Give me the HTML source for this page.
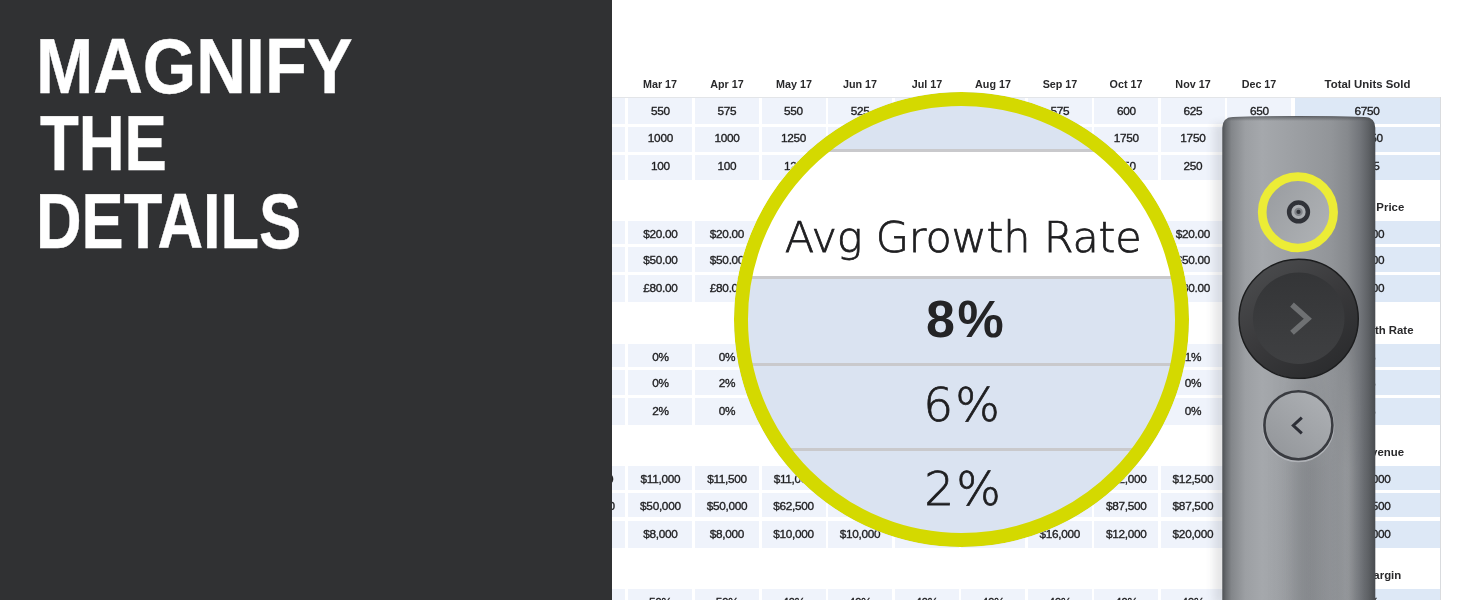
<!DOCTYPE html>
<html lang="en"><head><meta charset="utf-8"><title>Magnify the details</title>
<style>
html,body{margin:0;padding:0;}
body{width:1464px;height:600px;overflow:hidden;position:relative;background:#fff;font-family:"Liberation Sans",sans-serif;color:#2a2a2c;}
.abs{position:absolute;}
.cell{position:absolute;background:#eff3fb;font-size:11.8px;letter-spacing:-0.3px;text-align:center;white-space:nowrap;overflow:hidden;color:#1f1f21;-webkit-text-stroke:0.35px #1f1f21;}
.frag{text-align:right;}
.tot{background:#dde8f6;}
.hdr{position:absolute;font-weight:bold;font-size:11.7px;transform:scaleX(.92);line-height:14px;height:14px;text-align:center;white-space:nowrap;color:#29292b;}
#left{position:absolute;left:0;top:0;width:611.5px;height:600px;background:#303133;z-index:5;}
#left h1{position:absolute;margin:0;left:0;top:0;color:#fff;font-weight:bold;font-size:77.6px;line-height:78px;-webkit-text-stroke:0.45px #fff;}
#left h1 span{display:block;position:absolute;left:40px;white-space:nowrap;transform-origin:0 0;}
.mt{font-family:"DejaVu Sans Light","DejaVu Sans","Liberation Sans",sans-serif;font-weight:200;-webkit-text-stroke:0.75px #1e1e20;color:#1e1e20;white-space:nowrap;}
</style></head><body>

<div class="abs" style="left:612px;top:97px;width:829px;height:1px;background:#e3e5e8"></div>
<div class="abs" style="left:1440px;top:97px;width:1px;height:503px;background:#d9dbde"></div>
<div class="hdr" style="left:628.4px;top:77.1px;width:64.0px">Mar 17</div>
<div class="hdr" style="left:695.0px;top:77.1px;width:64.0px">Apr 17</div>
<div class="hdr" style="left:761.5px;top:77.1px;width:64.0px">May 17</div>
<div class="hdr" style="left:828.1px;top:77.1px;width:64.0px">Jun 17</div>
<div class="hdr" style="left:894.6px;top:77.1px;width:64.0px">Jul 17</div>
<div class="hdr" style="left:961.2px;top:77.1px;width:64.0px">Aug 17</div>
<div class="hdr" style="left:1027.8px;top:77.1px;width:64.0px">Sep 17</div>
<div class="hdr" style="left:1094.3px;top:77.1px;width:64.0px">Oct 17</div>
<div class="hdr" style="left:1160.9px;top:77.1px;width:64.0px">Nov 17</div>
<div class="hdr" style="left:1227.4px;top:77.1px;width:64.0px">Dec 17</div>
<div class="hdr" style="left:1294.6px;top:77.1px;width:145px;transform:scaleX(.975)">Total Units Sold</div>
<div class="cell frag" style="left:560px;top:97.5px;height:26.6px;line-height:27.7px;width:49.0px;padding-right:16px">525</div>
<div class="cell" style="left:628.4px;top:97.5px;height:26.6px;line-height:27.7px;width:64.0px">550</div>
<div class="cell" style="left:695.0px;top:97.5px;height:26.6px;line-height:27.7px;width:64.0px">575</div>
<div class="cell" style="left:761.5px;top:97.5px;height:26.6px;line-height:27.7px;width:64.0px">550</div>
<div class="cell" style="left:828.1px;top:97.5px;height:26.6px;line-height:27.7px;width:64.0px">525</div>
<div class="cell" style="left:894.6px;top:97.5px;height:26.6px;line-height:27.7px;width:64.0px">550</div>
<div class="cell" style="left:961.2px;top:97.5px;height:26.6px;line-height:27.7px;width:64.0px">575</div>
<div class="cell" style="left:1027.8px;top:97.5px;height:26.6px;line-height:27.7px;width:64.0px">575</div>
<div class="cell" style="left:1094.3px;top:97.5px;height:26.6px;line-height:27.7px;width:64.0px">600</div>
<div class="cell" style="left:1160.9px;top:97.5px;height:26.6px;line-height:27.7px;width:64.0px">625</div>
<div class="cell" style="left:1227.4px;top:97.5px;height:26.6px;line-height:27.7px;width:64.0px">650</div>
<div class="cell tot" style="left:1294.6px;top:97.5px;height:26.6px;line-height:27.7px;width:145px">6750</div>
<div class="cell frag" style="left:560px;top:127.0px;height:24.7px;line-height:23.5px;width:49.0px;padding-right:16px">1000</div>
<div class="cell" style="left:628.4px;top:127.0px;height:24.7px;line-height:23.5px;width:64.0px">1000</div>
<div class="cell" style="left:695.0px;top:127.0px;height:24.7px;line-height:23.5px;width:64.0px">1000</div>
<div class="cell" style="left:761.5px;top:127.0px;height:24.7px;line-height:23.5px;width:64.0px">1250</div>
<div class="cell" style="left:828.1px;top:127.0px;height:24.7px;line-height:23.5px;width:64.0px">1250</div>
<div class="cell" style="left:894.6px;top:127.0px;height:24.7px;line-height:23.5px;width:64.0px">1500</div>
<div class="cell" style="left:961.2px;top:127.0px;height:24.7px;line-height:23.5px;width:64.0px">1500</div>
<div class="cell" style="left:1027.8px;top:127.0px;height:24.7px;line-height:23.5px;width:64.0px">1750</div>
<div class="cell" style="left:1094.3px;top:127.0px;height:24.7px;line-height:23.5px;width:64.0px">1750</div>
<div class="cell" style="left:1160.9px;top:127.0px;height:24.7px;line-height:23.5px;width:64.0px">1750</div>
<div class="cell" style="left:1227.4px;top:127.0px;height:24.7px;line-height:23.5px;width:64.0px">2000</div>
<div class="cell tot" style="left:1294.6px;top:127.0px;height:24.7px;line-height:23.5px;width:145px">15750</div>
<div class="cell frag" style="left:560px;top:155.0px;height:25.0px;line-height:23.1px;width:49.0px;padding-right:16px">100</div>
<div class="cell" style="left:628.4px;top:155.0px;height:25.0px;line-height:23.1px;width:64.0px">100</div>
<div class="cell" style="left:695.0px;top:155.0px;height:25.0px;line-height:23.1px;width:64.0px">100</div>
<div class="cell" style="left:761.5px;top:155.0px;height:25.0px;line-height:23.1px;width:64.0px">125</div>
<div class="cell" style="left:828.1px;top:155.0px;height:25.0px;line-height:23.1px;width:64.0px">125</div>
<div class="cell" style="left:894.6px;top:155.0px;height:25.0px;line-height:23.1px;width:64.0px">150</div>
<div class="cell" style="left:961.2px;top:155.0px;height:25.0px;line-height:23.1px;width:64.0px">150</div>
<div class="cell" style="left:1027.8px;top:155.0px;height:25.0px;line-height:23.1px;width:64.0px">150</div>
<div class="cell" style="left:1094.3px;top:155.0px;height:25.0px;line-height:23.1px;width:64.0px">150</div>
<div class="cell" style="left:1160.9px;top:155.0px;height:25.0px;line-height:23.1px;width:64.0px">250</div>
<div class="cell" style="left:1227.4px;top:155.0px;height:25.0px;line-height:23.1px;width:64.0px">250</div>
<div class="cell tot" style="left:1294.6px;top:155.0px;height:25.0px;line-height:23.1px;width:145px">2275</div>
<div class="hdr" style="left:1293.1px;top:199.8px;width:145px;transform:scaleX(.975)">Avg Unit Price</div>
<div class="cell frag" style="left:560px;top:220.8px;height:23.4px;line-height:27.5px;width:49.0px;padding-right:16px"></div>
<div class="cell" style="left:628.4px;top:220.8px;height:23.4px;line-height:27.5px;width:64.0px">$20.00</div>
<div class="cell" style="left:695.0px;top:220.8px;height:23.4px;line-height:27.5px;width:64.0px">$20.00</div>
<div class="cell" style="left:761.5px;top:220.8px;height:23.4px;line-height:27.5px;width:64.0px">$20.00</div>
<div class="cell" style="left:828.1px;top:220.8px;height:23.4px;line-height:27.5px;width:64.0px">$20.00</div>
<div class="cell" style="left:894.6px;top:220.8px;height:23.4px;line-height:27.5px;width:64.0px">$20.00</div>
<div class="cell" style="left:961.2px;top:220.8px;height:23.4px;line-height:27.5px;width:64.0px">$20.00</div>
<div class="cell" style="left:1027.8px;top:220.8px;height:23.4px;line-height:27.5px;width:64.0px">$20.00</div>
<div class="cell" style="left:1094.3px;top:220.8px;height:23.4px;line-height:27.5px;width:64.0px">$20.00</div>
<div class="cell" style="left:1160.9px;top:220.8px;height:23.4px;line-height:27.5px;width:64.0px">$20.00</div>
<div class="cell" style="left:1227.4px;top:220.8px;height:23.4px;line-height:27.5px;width:64.0px">$20.00</div>
<div class="cell tot" style="left:1294.6px;top:220.8px;height:23.4px;line-height:27.5px;width:145px">$20.00</div>
<div class="cell frag" style="left:560px;top:247.4px;height:24.6px;line-height:27.9px;width:49.0px;padding-right:16px"></div>
<div class="cell" style="left:628.4px;top:247.4px;height:24.6px;line-height:27.9px;width:64.0px">$50.00</div>
<div class="cell" style="left:695.0px;top:247.4px;height:24.6px;line-height:27.9px;width:64.0px">$50.00</div>
<div class="cell" style="left:761.5px;top:247.4px;height:24.6px;line-height:27.9px;width:64.0px">$50.00</div>
<div class="cell" style="left:828.1px;top:247.4px;height:24.6px;line-height:27.9px;width:64.0px">$50.00</div>
<div class="cell" style="left:894.6px;top:247.4px;height:24.6px;line-height:27.9px;width:64.0px">$50.00</div>
<div class="cell" style="left:961.2px;top:247.4px;height:24.6px;line-height:27.9px;width:64.0px">$50.00</div>
<div class="cell" style="left:1027.8px;top:247.4px;height:24.6px;line-height:27.9px;width:64.0px">$50.00</div>
<div class="cell" style="left:1094.3px;top:247.4px;height:24.6px;line-height:27.9px;width:64.0px">$50.00</div>
<div class="cell" style="left:1160.9px;top:247.4px;height:24.6px;line-height:27.9px;width:64.0px">$50.00</div>
<div class="cell" style="left:1227.4px;top:247.4px;height:24.6px;line-height:27.9px;width:64.0px">$50.00</div>
<div class="cell tot" style="left:1294.6px;top:247.4px;height:24.6px;line-height:27.9px;width:145px">$50.00</div>
<div class="cell frag" style="left:560px;top:275.2px;height:27.3px;line-height:27.1px;width:49.0px;padding-right:16px"></div>
<div class="cell" style="left:628.4px;top:275.2px;height:27.3px;line-height:27.1px;width:64.0px">£80.00</div>
<div class="cell" style="left:695.0px;top:275.2px;height:27.3px;line-height:27.1px;width:64.0px">£80.00</div>
<div class="cell" style="left:761.5px;top:275.2px;height:27.3px;line-height:27.1px;width:64.0px">£80.00</div>
<div class="cell" style="left:828.1px;top:275.2px;height:27.3px;line-height:27.1px;width:64.0px">£80.00</div>
<div class="cell" style="left:894.6px;top:275.2px;height:27.3px;line-height:27.1px;width:64.0px">£80.00</div>
<div class="cell" style="left:961.2px;top:275.2px;height:27.3px;line-height:27.1px;width:64.0px">£80.00</div>
<div class="cell" style="left:1027.8px;top:275.2px;height:27.3px;line-height:27.1px;width:64.0px">£80.00</div>
<div class="cell" style="left:1094.3px;top:275.2px;height:27.3px;line-height:27.1px;width:64.0px">£80.00</div>
<div class="cell" style="left:1160.9px;top:275.2px;height:27.3px;line-height:27.1px;width:64.0px">£80.00</div>
<div class="cell" style="left:1227.4px;top:275.2px;height:27.3px;line-height:27.1px;width:64.0px">£80.00</div>
<div class="cell tot" style="left:1294.6px;top:275.2px;height:27.3px;line-height:27.1px;width:145px">£80.00</div>
<div class="hdr" style="left:1294.6px;top:322.5px;width:145px;transform:scaleX(.975)">Avg Growth Rate</div>
<div class="cell frag" style="left:560px;top:343.5px;height:23.4px;line-height:27.5px;width:49.0px;padding-right:16px"></div>
<div class="cell" style="left:628.4px;top:343.5px;height:23.4px;line-height:27.5px;width:64.0px">0%</div>
<div class="cell" style="left:695.0px;top:343.5px;height:23.4px;line-height:27.5px;width:64.0px">0%</div>
<div class="cell" style="left:761.5px;top:343.5px;height:23.4px;line-height:27.5px;width:64.0px">2%</div>
<div class="cell" style="left:828.1px;top:343.5px;height:23.4px;line-height:27.5px;width:64.0px">0%</div>
<div class="cell" style="left:894.6px;top:343.5px;height:23.4px;line-height:27.5px;width:64.0px">2%</div>
<div class="cell" style="left:961.2px;top:343.5px;height:23.4px;line-height:27.5px;width:64.0px">0%</div>
<div class="cell" style="left:1027.8px;top:343.5px;height:23.4px;line-height:27.5px;width:64.0px">4%</div>
<div class="cell" style="left:1094.3px;top:343.5px;height:23.4px;line-height:27.5px;width:64.0px">4%</div>
<div class="cell" style="left:1160.9px;top:343.5px;height:23.4px;line-height:27.5px;width:64.0px">1%</div>
<div class="cell" style="left:1227.4px;top:343.5px;height:23.4px;line-height:27.5px;width:64.0px">4%</div>
<div class="cell tot" style="left:1294.6px;top:343.5px;height:23.4px;line-height:27.5px;width:145px">8%</div>
<div class="cell frag" style="left:560px;top:370.1px;height:24.6px;line-height:27.9px;width:49.0px;padding-right:16px"></div>
<div class="cell" style="left:628.4px;top:370.1px;height:24.6px;line-height:27.9px;width:64.0px">0%</div>
<div class="cell" style="left:695.0px;top:370.1px;height:24.6px;line-height:27.9px;width:64.0px">2%</div>
<div class="cell" style="left:761.5px;top:370.1px;height:24.6px;line-height:27.9px;width:64.0px">0%</div>
<div class="cell" style="left:828.1px;top:370.1px;height:24.6px;line-height:27.9px;width:64.0px">2%</div>
<div class="cell" style="left:894.6px;top:370.1px;height:24.6px;line-height:27.9px;width:64.0px">0%</div>
<div class="cell" style="left:961.2px;top:370.1px;height:24.6px;line-height:27.9px;width:64.0px">2%</div>
<div class="cell" style="left:1027.8px;top:370.1px;height:24.6px;line-height:27.9px;width:64.0px">0%</div>
<div class="cell" style="left:1094.3px;top:370.1px;height:24.6px;line-height:27.9px;width:64.0px">0%</div>
<div class="cell" style="left:1160.9px;top:370.1px;height:24.6px;line-height:27.9px;width:64.0px">0%</div>
<div class="cell" style="left:1227.4px;top:370.1px;height:24.6px;line-height:27.9px;width:64.0px">2%</div>
<div class="cell tot" style="left:1294.6px;top:370.1px;height:24.6px;line-height:27.9px;width:145px">6%</div>
<div class="cell frag" style="left:560px;top:397.9px;height:27.3px;line-height:27.1px;width:49.0px;padding-right:16px"></div>
<div class="cell" style="left:628.4px;top:397.9px;height:27.3px;line-height:27.1px;width:64.0px">2%</div>
<div class="cell" style="left:695.0px;top:397.9px;height:27.3px;line-height:27.1px;width:64.0px">0%</div>
<div class="cell" style="left:761.5px;top:397.9px;height:27.3px;line-height:27.1px;width:64.0px">2%</div>
<div class="cell" style="left:828.1px;top:397.9px;height:27.3px;line-height:27.1px;width:64.0px">0%</div>
<div class="cell" style="left:894.6px;top:397.9px;height:27.3px;line-height:27.1px;width:64.0px">2%</div>
<div class="cell" style="left:961.2px;top:397.9px;height:27.3px;line-height:27.1px;width:64.0px">0%</div>
<div class="cell" style="left:1027.8px;top:397.9px;height:27.3px;line-height:27.1px;width:64.0px">0%</div>
<div class="cell" style="left:1094.3px;top:397.9px;height:27.3px;line-height:27.1px;width:64.0px">0%</div>
<div class="cell" style="left:1160.9px;top:397.9px;height:27.3px;line-height:27.1px;width:64.0px">0%</div>
<div class="cell" style="left:1227.4px;top:397.9px;height:27.3px;line-height:27.1px;width:64.0px">0%</div>
<div class="cell tot" style="left:1294.6px;top:397.9px;height:27.3px;line-height:27.1px;width:145px">2%</div>
<div class="hdr" style="left:1293.1px;top:445.2px;width:145px;transform:scaleX(.975)">Total Revenue</div>
<div class="cell frag" style="left:560px;top:466.2px;height:23.4px;line-height:27.5px;width:53.2px;padding-right:11.8px">$10,000</div>
<div class="cell" style="left:628.4px;top:466.2px;height:23.4px;line-height:27.5px;width:64.0px">$11,000</div>
<div class="cell" style="left:695.0px;top:466.2px;height:23.4px;line-height:27.5px;width:64.0px">$11,500</div>
<div class="cell" style="left:761.5px;top:466.2px;height:23.4px;line-height:27.5px;width:64.0px">$11,000</div>
<div class="cell" style="left:828.1px;top:466.2px;height:23.4px;line-height:27.5px;width:64.0px">$10,500</div>
<div class="cell" style="left:894.6px;top:466.2px;height:23.4px;line-height:27.5px;width:64.0px">$11,000</div>
<div class="cell" style="left:961.2px;top:466.2px;height:23.4px;line-height:27.5px;width:64.0px">$11,500</div>
<div class="cell" style="left:1027.8px;top:466.2px;height:23.4px;line-height:27.5px;width:64.0px">$11,500</div>
<div class="cell" style="left:1094.3px;top:466.2px;height:23.4px;line-height:27.5px;width:64.0px">$12,000</div>
<div class="cell" style="left:1160.9px;top:466.2px;height:23.4px;line-height:27.5px;width:64.0px">$12,500</div>
<div class="cell" style="left:1227.4px;top:466.2px;height:23.4px;line-height:27.5px;width:64.0px">$13,000</div>
<div class="cell tot" style="left:1294.6px;top:466.2px;height:23.4px;line-height:27.5px;width:145px">$135,000</div>
<div class="cell frag" style="left:560px;top:492.8px;height:24.6px;line-height:27.9px;width:54.7px;padding-right:10.3px">$50,000</div>
<div class="cell" style="left:628.4px;top:492.8px;height:24.6px;line-height:27.9px;width:64.0px">$50,000</div>
<div class="cell" style="left:695.0px;top:492.8px;height:24.6px;line-height:27.9px;width:64.0px">$50,000</div>
<div class="cell" style="left:761.5px;top:492.8px;height:24.6px;line-height:27.9px;width:64.0px">$62,500</div>
<div class="cell" style="left:828.1px;top:492.8px;height:24.6px;line-height:27.9px;width:64.0px">$62,500</div>
<div class="cell" style="left:894.6px;top:492.8px;height:24.6px;line-height:27.9px;width:64.0px">$75,000</div>
<div class="cell" style="left:961.2px;top:492.8px;height:24.6px;line-height:27.9px;width:64.0px">$75,000</div>
<div class="cell" style="left:1027.8px;top:492.8px;height:24.6px;line-height:27.9px;width:64.0px">$87,500</div>
<div class="cell" style="left:1094.3px;top:492.8px;height:24.6px;line-height:27.9px;width:64.0px">$87,500</div>
<div class="cell" style="left:1160.9px;top:492.8px;height:24.6px;line-height:27.9px;width:64.0px">$87,500</div>
<div class="cell" style="left:1227.4px;top:492.8px;height:24.6px;line-height:27.9px;width:64.0px">$100,000</div>
<div class="cell tot" style="left:1294.6px;top:492.8px;height:24.6px;line-height:27.9px;width:145px">$787,500</div>
<div class="cell frag" style="left:560px;top:520.6px;height:27.3px;line-height:27.1px;width:49.0px;padding-right:16px">$8,000</div>
<div class="cell" style="left:628.4px;top:520.6px;height:27.3px;line-height:27.1px;width:64.0px">$8,000</div>
<div class="cell" style="left:695.0px;top:520.6px;height:27.3px;line-height:27.1px;width:64.0px">$8,000</div>
<div class="cell" style="left:761.5px;top:520.6px;height:27.3px;line-height:27.1px;width:64.0px">$10,000</div>
<div class="cell" style="left:828.1px;top:520.6px;height:27.3px;line-height:27.1px;width:64.0px">$10,000</div>
<div class="cell" style="left:894.6px;top:520.6px;height:27.3px;line-height:27.1px;width:64.0px">$12,000</div>
<div class="cell" style="left:961.2px;top:520.6px;height:27.3px;line-height:27.1px;width:64.0px">$12,000</div>
<div class="cell" style="left:1027.8px;top:520.6px;height:27.3px;line-height:27.1px;width:64.0px">$16,000</div>
<div class="cell" style="left:1094.3px;top:520.6px;height:27.3px;line-height:27.1px;width:64.0px">$12,000</div>
<div class="cell" style="left:1160.9px;top:520.6px;height:27.3px;line-height:27.1px;width:64.0px">$20,000</div>
<div class="cell" style="left:1227.4px;top:520.6px;height:27.3px;line-height:27.1px;width:64.0px">$20,000</div>
<div class="cell tot" style="left:1294.6px;top:520.6px;height:27.3px;line-height:27.1px;width:145px">$182,000</div>
<div class="hdr" style="left:1291.6px;top:567.9px;width:145px;transform:scaleX(.975)">Gross Margin</div>
<div class="cell frag" style="left:560px;top:588.9px;height:23.4px;line-height:27.5px;width:49.0px;padding-right:16px"></div>
<div class="cell" style="left:628.4px;top:588.9px;height:23.4px;line-height:27.5px;width:64.0px">50%</div>
<div class="cell" style="left:695.0px;top:588.9px;height:23.4px;line-height:27.5px;width:64.0px">50%</div>
<div class="cell" style="left:761.5px;top:588.9px;height:23.4px;line-height:27.5px;width:64.0px">40%</div>
<div class="cell" style="left:828.1px;top:588.9px;height:23.4px;line-height:27.5px;width:64.0px">40%</div>
<div class="cell" style="left:894.6px;top:588.9px;height:23.4px;line-height:27.5px;width:64.0px">40%</div>
<div class="cell" style="left:961.2px;top:588.9px;height:23.4px;line-height:27.5px;width:64.0px">40%</div>
<div class="cell" style="left:1027.8px;top:588.9px;height:23.4px;line-height:27.5px;width:64.0px">40%</div>
<div class="cell" style="left:1094.3px;top:588.9px;height:23.4px;line-height:27.5px;width:64.0px">40%</div>
<div class="cell" style="left:1160.9px;top:588.9px;height:23.4px;line-height:27.5px;width:64.0px">40%</div>
<div class="cell" style="left:1227.4px;top:588.9px;height:23.4px;line-height:27.5px;width:64.0px">40%</div>
<div class="cell tot" style="left:1294.6px;top:588.9px;height:23.4px;line-height:27.5px;width:145px">42%</div>

<div id="left"><h1><span id="h1a" style="top:27px;left:36px;transform:scaleX(.885)">MAGNIFY</span> <span id="h1b" style="top:104px;left:40.3px;transform:scaleX(.818)">THE</span> <span id="h1c" style="top:182px;left:36.3px;transform:scaleX(.813)">DETAILS</span></h1></div>


<div id="mag" class="abs" style="left:734.3px;top:92.4px;width:454.6px;height:454.6px;border-radius:50%;overflow:hidden;background:#dae3f1;z-index:3;">
  <div class="abs" style="left:0;top:57px;width:100%;height:3px;background:#c9c9cc"></div>
  <div class="abs" style="left:0;top:60px;width:100%;height:124px;background:#fff"></div>
  <div class="abs" style="left:0;top:184px;width:100%;height:3px;background:#c9c9cc"></div>
  <div class="abs" style="left:0;top:270.5px;width:100%;height:3px;background:#c9c9cc"></div>
  <div class="abs" style="left:0;top:356px;width:100%;height:3px;background:#c9c9cc"></div>
  <div class="abs mt" id="t-avg" style="left:1.5px;width:100%;top:120px;letter-spacing:-0.2px;text-align:center;font-size:43px;line-height:50px;">Avg Growth Rate</div>
  <div class="abs" id="t-8" style="left:4.5px;width:100%;top:198.5px;text-align:center;font-size:52px;line-height:56px;font-weight:bold;letter-spacing:2.5px;color:#242426;">8%</div>
  <div class="abs mt" id="t-6" style="left:1px;width:100%;top:284.5px;text-align:center;font-size:47px;line-height:56px;letter-spacing:2px;">6%</div>
  <div class="abs mt" id="t-2" style="left:2px;width:100%;top:368.3px;text-align:center;font-size:47px;line-height:56px;letter-spacing:2px;">2%</div>
  <div class="abs" style="left:0;top:0;width:100%;height:100%;box-sizing:border-box;border:14.5px solid #d4d900;border-radius:50%;"></div>
</div>


<svg id="remote" class="abs" style="left:1190px;top:100px;z-index:4" width="210" height="500" viewBox="1190 100 210 500">
 <defs>
  <linearGradient id="body" x1="1222.3" x2="1375.3" y1="0" y2="0" gradientUnits="userSpaceOnUse">
   <stop offset="0" stop-color="#4e5155"/><stop offset=".025" stop-color="#686b6f"/><stop offset=".06" stop-color="#83868a"/>
   <stop offset=".15" stop-color="#9c9fa3"/><stop offset=".26" stop-color="#a5a8ac"/><stop offset=".48" stop-color="#9c9fa3"/><stop offset=".71" stop-color="#929599"/>
   <stop offset=".82" stop-color="#86898d"/><stop offset=".90" stop-color="#72757a"/><stop offset=".955" stop-color="#5e6165"/><stop offset="1" stop-color="#484b4f"/>
  </linearGradient>
  <linearGradient id="midshade" x1="1222.3" x2="1375.3" y1="0" y2="0" gradientUnits="userSpaceOnUse">
   <stop offset="0.000" stop-color="#2c2e33" stop-opacity="0.000"/><stop offset="0.025" stop-color="#2c2e33" stop-opacity="0.000"/><stop offset="0.050" stop-color="#2c2e33" stop-opacity="0.000"/><stop offset="0.075" stop-color="#2c2e33" stop-opacity="0.000"/><stop offset="0.100" stop-color="#2c2e33" stop-opacity="0.000"/><stop offset="0.125" stop-color="#2c2e33" stop-opacity="0.000"/><stop offset="0.150" stop-color="#2c2e33" stop-opacity="0.000"/><stop offset="0.175" stop-color="#2c2e33" stop-opacity="0.000"/><stop offset="0.200" stop-color="#2c2e33" stop-opacity="0.000"/><stop offset="0.225" stop-color="#2c2e33" stop-opacity="0.000"/><stop offset="0.250" stop-color="#2c2e33" stop-opacity="0.000"/><stop offset="0.275" stop-color="#2c2e33" stop-opacity="0.001"/><stop offset="0.300" stop-color="#2c2e33" stop-opacity="0.002"/><stop offset="0.325" stop-color="#2c2e33" stop-opacity="0.005"/><stop offset="0.350" stop-color="#2c2e33" stop-opacity="0.010"/><stop offset="0.375" stop-color="#2c2e33" stop-opacity="0.019"/><stop offset="0.400" stop-color="#2c2e33" stop-opacity="0.034"/><stop offset="0.425" stop-color="#2c2e33" stop-opacity="0.054"/><stop offset="0.450" stop-color="#2c2e33" stop-opacity="0.080"/><stop offset="0.475" stop-color="#2c2e33" stop-opacity="0.108"/><stop offset="0.500" stop-color="#2c2e33" stop-opacity="0.134"/><stop offset="0.525" stop-color="#2c2e33" stop-opacity="0.153"/><stop offset="0.550" stop-color="#2c2e33" stop-opacity="0.160"/><stop offset="0.575" stop-color="#2c2e33" stop-opacity="0.153"/><stop offset="0.600" stop-color="#2c2e33" stop-opacity="0.134"/><stop offset="0.625" stop-color="#2c2e33" stop-opacity="0.108"/><stop offset="0.650" stop-color="#2c2e33" stop-opacity="0.080"/><stop offset="0.675" stop-color="#2c2e33" stop-opacity="0.054"/><stop offset="0.700" stop-color="#2c2e33" stop-opacity="0.033"/><stop offset="0.725" stop-color="#2c2e33" stop-opacity="0.014"/><stop offset="0.750" stop-color="#ffffff" stop-opacity="0.012"/><stop offset="0.775" stop-color="#ffffff" stop-opacity="0.052"/><stop offset="0.800" stop-color="#ffffff" stop-opacity="0.094"/><stop offset="0.825" stop-color="#ffffff" stop-opacity="0.108"/><stop offset="0.850" stop-color="#ffffff" stop-opacity="0.081"/><stop offset="0.875" stop-color="#ffffff" stop-opacity="0.040"/><stop offset="0.900" stop-color="#ffffff" stop-opacity="0.013"/><stop offset="0.925" stop-color="#ffffff" stop-opacity="0.003"/><stop offset="0.950" stop-color="#ffffff" stop-opacity="0.000"/><stop offset="0.975" stop-color="#ffffff" stop-opacity="0.000"/><stop offset="1.000" stop-color="#ffffff" stop-opacity="0.000"/>
  </linearGradient>
  <linearGradient id="fadev" x1="0" x2="0" y1="340" y2="470" gradientUnits="userSpaceOnUse">
   <stop offset="0" stop-color="#fff" stop-opacity="0"/><stop offset="1" stop-color="#fff" stop-opacity="1"/>
  </linearGradient>
  <mask id="mlow" maskUnits="userSpaceOnUse" x="1190" y="100" width="210" height="500"><rect x="1190" y="100" width="210" height="500" fill="url(#fadev)"/></mask>
  <linearGradient id="topedge" x1="0" x2="0" y1="115.5" y2="121" gradientUnits="userSpaceOnUse">
   <stop offset="0" stop-color="#2e3034" stop-opacity=".8"/><stop offset=".35" stop-color="#3a3c40" stop-opacity=".45"/><stop offset="1" stop-color="#3a3c40" stop-opacity="0"/>
  </linearGradient>
  <linearGradient id="ringfill" x1="1262" x2="1334" y1="190" y2="235" gradientUnits="userSpaceOnUse">
   <stop offset="0" stop-color="#999ca0"/><stop offset="1" stop-color="#b0b3b6"/>
  </linearGradient>
  <linearGradient id="bigring" x1="1260" x2="1338" y1="265" y2="372" gradientUnits="userSpaceOnUse">
   <stop offset="0" stop-color="#4a4b4d"/><stop offset=".5" stop-color="#39393b"/><stop offset="1" stop-color="#2a2b2d"/>
  </linearGradient>
  <linearGradient id="bigin" x1="0" x2="0" y1="272" y2="365" gradientUnits="userSpaceOnUse">
   <stop offset="0" stop-color="#343537"/><stop offset="1" stop-color="#3f4042"/>
  </linearGradient>
  <linearGradient id="smallfill" x1="1275" x2="1325" y1="455" y2="395" gradientUnits="userSpaceOnUse">
   <stop offset="0" stop-color="#94979b"/><stop offset="1" stop-color="#adb0b4"/>
  </linearGradient>
  <filter id="blur4" x="-50%" y="-10%" width="200%" height="120%"><feGaussianBlur stdDeviation="4"/></filter>
 </defs>
 <rect x="1214" y="124" width="30" height="480" fill="#3c4046" opacity=".13" filter="url(#blur4)"/>
 <path id="bodyshape" d="M1222.3 600 L1222.3 128 Q1222.3 117.6 1233 117.1 Q1299 115 1364.6 117.1 Q1375.3 117.6 1375.3 128 L1375.3 600 Z" fill="url(#body)"/>
 <path d="M1222.3 600 L1222.3 128 Q1222.3 117.6 1233 117.1 Q1299 115 1364.6 117.1 Q1375.3 117.6 1375.3 128 L1375.3 600 Z" fill="url(#midshade)" mask="url(#mlow)"/>
 <path d="M1222.3 140 L1222.3 128 Q1222.3 117.6 1233 117.1 Q1299 115 1364.6 117.1 Q1375.3 117.6 1375.3 128 L1375.3 140 Z" fill="url(#topedge)"/>
 <!-- pointer button with yellow ring -->
 <circle cx="1297.9" cy="212.3" r="35.7" fill="url(#ringfill)" stroke="#ecec36" stroke-width="8.7"/>
 <circle cx="1298.5" cy="211.9" r="9.4" fill="#abaeb2" stroke="#303238" stroke-width="4.5"/>
 <circle cx="1298.5" cy="211.9" r="4.2" fill="#7e8187"/>
 <circle cx="1298.5" cy="211.9" r="2.1" fill="#33353b"/>
 <!-- next button -->
 <circle cx="1298.7" cy="319.6" r="60" fill="#6b6e72" opacity=".5"/>
 <circle cx="1298.7" cy="318.8" r="59.6" fill="url(#bigring)" stroke="#1b1c1d" stroke-width="1.4"/>
 <circle cx="1298.7" cy="318.2" r="45.8" fill="url(#bigin)"/>
 <path d="M1292 304.6 L1307.8 318.7 L1292 332.8" fill="none" stroke="#6f7173" stroke-width="5.5" stroke-linejoin="miter"/>
 <!-- back button -->
 <circle cx="1298.4" cy="426.3" r="35.2" fill="none" stroke="#b9bcc0" stroke-width="1.6" opacity=".8"/>
 <circle cx="1298.4" cy="425.2" r="34" fill="url(#smallfill)" stroke="#393b40" stroke-width="2.6"/>
 <path d="M1301.8 417.6 L1293.3 425.5 L1301.8 433.4" fill="none" stroke="#2c2e36" stroke-width="3" stroke-linejoin="miter"/>
</svg>

</body></html>
